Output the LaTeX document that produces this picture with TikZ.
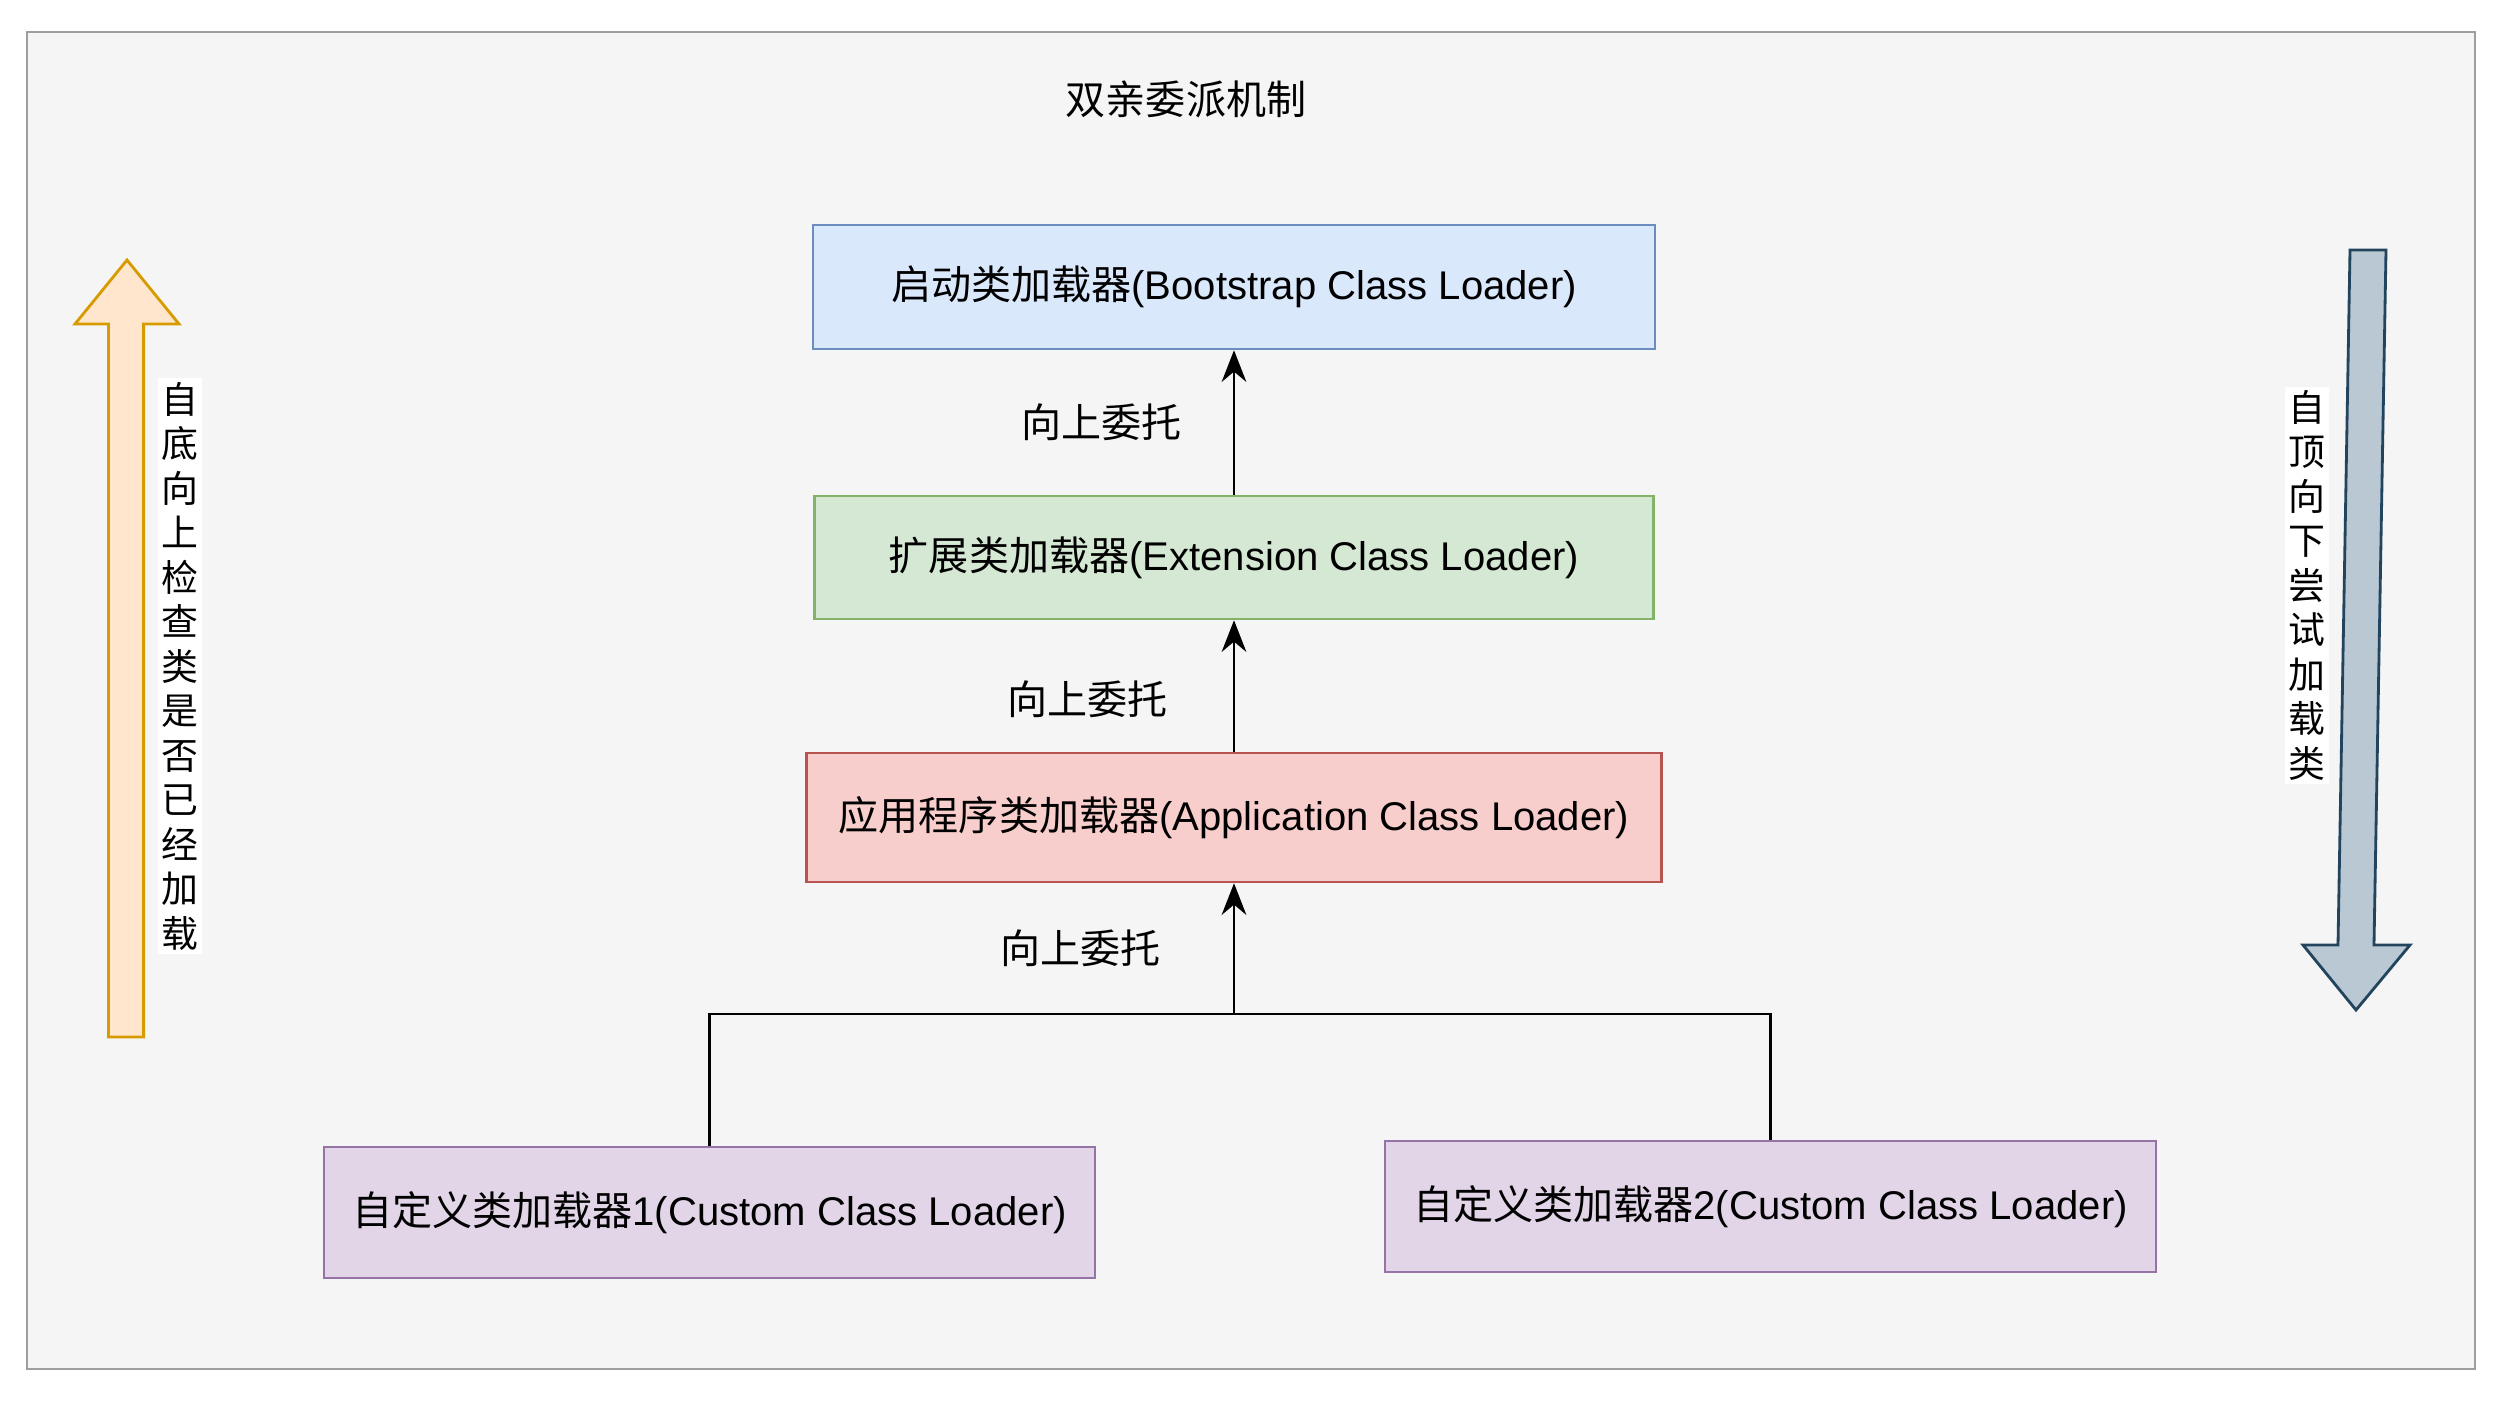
\documentclass[tikz,border=0pt]{standalone}
\usepackage{fontspec}
\setmainfont{Liberation Sans}
\newfontfamily\cjk{Noto Sans CJK SC}
\usetikzlibrary{arrows.meta}
\definecolor{bootfill}{HTML}{DAE8FC}
\definecolor{bootline}{HTML}{6C8EBF}
\definecolor{extfill}{HTML}{D5E8D4}
\definecolor{extline}{HTML}{82B366}
\definecolor{appfill}{HTML}{F8CECC}
\definecolor{appline}{HTML}{B85450}
\definecolor{custfill}{HTML}{E1D5E7}
\definecolor{custline}{HTML}{9673A6}
\definecolor{upfill}{HTML}{FFE6CC}
\definecolor{upline}{HTML}{D79B00}
\definecolor{downfill}{HTML}{BAC8D3}
\definecolor{downline}{HTML}{23445D}
\definecolor{pagefill}{HTML}{F5F5F5}
\definecolor{pageline}{HTML}{9E9E9E}
\begin{document}
\begin{tikzpicture}[>={Stealth[length=9pt,width=7pt]},
    loader/.style={draw, line width=0.7pt, inner sep=0pt, font=\fontsize{11.4}{13.7}\selectfont},
    tag/.style={font=\fontsize{11.4}{13.7}\selectfont\cjk},
    vtext/.style={fill=white, inner sep=1pt, align=center, font=\fontsize{10.5}{12.66}\selectfont\cjk}]
    \useasboundingbox (0,0) rectangle (25.02,-14.02);
    \draw[fill=pagefill, draw=pageline, line width=0.8pt] (0.27,-0.32) rectangle (24.75,-13.69);
    \node (title) at (11.86,-0.99) [tag] {双亲委派机制};
    \node (boot) at (12.34,-2.87) [loader, fill=bootfill, draw=bootline, minimum width=8.42cm, minimum height=1.24cm] {{\cjk 启动类加载器}(Bootstrap Class Loader)};
    \node (ext) at (12.34,-5.575) [loader, fill=extfill, draw=extline, minimum width=8.39cm, minimum height=1.23cm] {{\cjk 扩展类加载器}(Extension Class Loader)};
    \node (app) at (12.34,-8.175) [loader, fill=appfill, draw=appline, minimum width=8.55cm, minimum height=1.29cm] {{\cjk 应用程序类加载器}(Application Class Loader)};
    \node (c1) at (7.095,-12.125) [loader, fill=custfill, draw=custline, minimum width=7.71cm, minimum height=1.31cm] {{\cjk 自定义类加载器}1(Custom Class Loader)};
    \node (c2) at (17.705,-12.065) [loader, fill=custfill, draw=custline, minimum width=7.71cm, minimum height=1.31cm] {{\cjk 自定义类加载器}2(Custom Class Loader)};
    \coordinate (join) at (12.34,-10.14);
    \path[->, line width=0.8pt]
    (ext) edge node [tag, left=0.39cm] {向上委托} (boot)
    (app) edge node [tag, left=0.53cm, yshift=-0.13cm] {向上委托} (ext)
    (join) edge node [tag, left=0.6cm] {向上委托} (app);
    \draw[line width=0.8pt] (c1) |- (join) (c2) |- (join);
    \draw[fill=upfill, draw=upline, line width=0.8pt] (1.085,-10.37) -- (1.085,-3.24) -- (0.75,-3.24) -- (1.27,-2.60) -- (1.79,-3.24) -- (1.436,-3.24) -- (1.436,-10.37) -- cycle;
    \draw[fill=downfill, draw=downline, line width=0.8pt] (23.50,-2.50) -- (23.86,-2.50) -- (23.74,-9.45) -- (24.10,-9.45) -- (23.56,-10.10) -- (23.03,-9.45) -- (23.38,-9.45) -- cycle;
    \node (up) at (1.80,-6.66) [vtext] {自\\底\\向\\上\\检\\查\\类\\是\\否\\已\\经\\加\\载};
    \node (down) at (23.07,-5.85) [vtext] {自\\顶\\向\\下\\尝\\试\\加\\载\\类};
\end{tikzpicture}
\end{document}
